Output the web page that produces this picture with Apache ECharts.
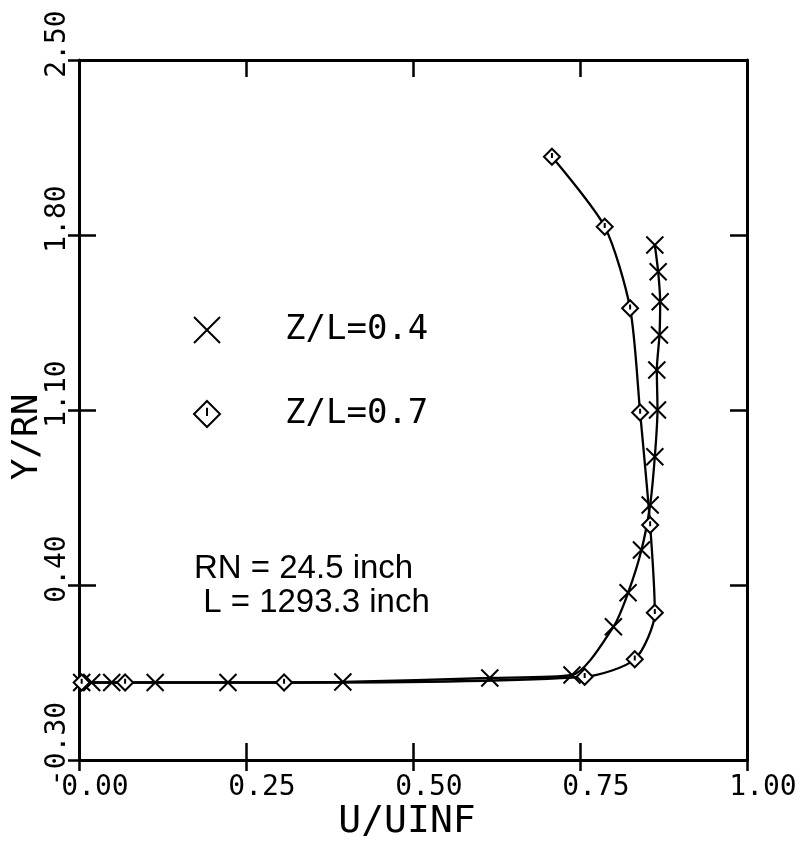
<!DOCTYPE html>
<html>
<head>
<meta charset="utf-8">
<script src="https://cdn.jsdelivr.net/npm/echarts@6/dist/echarts.min.js"></script>
<style>
html,body{margin:0;padding:0;background:#fff;}
#chart{width:805px;height:841px;}
</style>
</head>
<body>
<div id="chart"></div>
<script>
// ---- data ----
var xTicks = [0, 0.25, 0.5, 0.75, 1.0];
var yTicks = [-0.30, 0.40, 1.10, 1.80, 2.50];

var seriesNames = ['Z/L=0.4', 'Z/L=0.7'];

var z04U = [0.004, 0.019, 0.049, 0.114, 0.223, 0.395, 0.615, 0.738, 0.800, 0.822, 0.842, 0.855, 0.862, 0.866, 0.865, 0.869, 0.870, 0.867, 0.862];
var z04Y = [0.010, 0.010, 0.010, 0.010, 0.010, 0.012, 0.028, 0.040, 0.233, 0.369, 0.540, 0.720, 0.913, 1.100, 1.260, 1.400, 1.533, 1.653, 1.760];

var z07U = [0.004, 0.069, 0.307, 0.757, 0.832, 0.862, 0.855, 0.840, 0.825, 0.787, 0.708];
var z07Y = [0.010, 0.010, 0.010, 0.033, 0.103, 0.289, 0.640, 1.090, 1.507, 1.833, 2.113];

var noteLines = ['RN = 24.5 inch', ' L = 1293.3 inch'];

// ---- chart ----
function pairs(u, y) { return u.map(function (v, i) { return [v, y[i]]; }); }

var crossPath = 'path://M0,0L10,10M10,0L0,10';
var diamondPath = 'path://M5,0L10,5L5,10L0,5Z M5,2.6L5,5.8';

var MONO = "'DejaVu Sans Mono', 'Liberation Mono', monospace";
var frameW = 3;

var chart = echarts.init(document.getElementById('chart'), null, { renderer: 'canvas' });

var xBase = { type: 'value', min: xTicks[0], max: xTicks[xTicks.length - 1], interval: 0.25, splitLine: { show: false } };
var yBase = { type: 'value', min: yTicks[0], max: yTicks[yTicks.length - 1], splitLine: { show: false } };

function merge(a, b) { var o = {}; for (var k in a) o[k] = a[k]; for (var k2 in b) o[k2] = b[k2]; return o; }

var tickStyle = { color: '#000', width: 2.5 };

var option = {
  backgroundColor: '#fff',
  animation: false,
  grid: { left: 79, right: 58, top: 60, bottom: 81, containLabel: false, outerBoundsMode: 'none' },
  xAxis: [
    merge(xBase, {
      position: 'bottom',
      name: 'U/UINF', nameLocation: 'middle', nameGap: 43, nameMoveOverlap: false,
      nameTextStyle: { fontFamily: MONO, fontSize: 38, color: '#000', padding: [0, 12, 0, 0] },
      axisLine: { show: true, onZero: false, lineStyle: { color: '#000', width: frameW } },
      axisTick: { show: true, inside: true, length: 17, lineStyle: tickStyle },
      axisLabel: { show: true, margin: 14, fontFamily: MONO, fontSize: 28, color: '#000', padding: [0, 0, 0, 32],
        formatter: function (v) { return v.toFixed(2); } }
    }),
    merge(xBase, {
      position: 'bottom',
      axisLine: { show: false, onZero: false },
      axisTick: { show: true, inside: false, length: 11, lineStyle: tickStyle },
      axisLabel: { show: false }
    }),
    merge(xBase, {
      position: 'top',
      axisLine: { show: true, onZero: false, lineStyle: { color: '#000', width: frameW } },
      axisTick: { show: true, inside: true, length: 17, lineStyle: tickStyle },
      axisLabel: { show: false }
    })
  ],
  yAxis: [
    merge(yBase, {
      position: 'left',
      name: 'Y/RN', nameLocation: 'middle', nameGap: 33, nameRotate: 90, nameMoveOverlap: false,
      nameTextStyle: { fontFamily: MONO, fontSize: 36, color: '#000', padding: [0, 54, 0, 0] },
      axisLine: { show: true, onZero: false, lineStyle: { color: '#000', width: frameW } },
      axisTick: { show: true, inside: true, length: 17, customValues: yTicks, lineStyle: tickStyle },
      axisLabel: { show: true, rotate: 90, margin: 7, fontFamily: MONO, fontSize: 28, color: '#000', padding: [0, 0, 0, 32],
        customValues: yTicks, formatter: function (v) { return v.toFixed(2); } }
    }),
    merge(yBase, {
      position: 'left',
      axisLine: { show: false, onZero: false },
      axisTick: { show: true, inside: false, length: 11, customValues: yTicks, lineStyle: tickStyle },
      axisLabel: { show: false }
    }),
    merge(yBase, {
      position: 'right',
      axisLine: { show: true, onZero: false, lineStyle: { color: '#000', width: frameW } },
      axisTick: { show: true, inside: true, length: 17, customValues: yTicks, lineStyle: tickStyle },
      axisLabel: { show: false }
    })
  ],
  legend: {
    orient: 'vertical', left: 188, top: 302,
    itemWidth: 26, itemHeight: 26, itemGap: 38,
    selectedMode: false,
    textStyle: { fontFamily: MONO, fontSize: 34, color: '#000', lineHeight: 38, padding: [0, 0, 8, 60] },
    itemStyle: { color: '#fff', borderColor: '#000', borderWidth: 2 },
    data: [
      { name: seriesNames[0], icon: crossPath },
      { name: seriesNames[1], icon: diamondPath }
    ]
  },
  graphic: [
    { type: 'text', left: 194, top: 552, silent: true,
      style: { text: noteLines[0], fill: '#000', font: "33px 'Liberation Sans', Arial, sans-serif" } },
    { type: 'text', left: 194, top: 586, silent: true,
      style: { text: noteLines[1], fill: '#000', font: "33px 'Liberation Sans', Arial, sans-serif", whiteSpace: 'pre' } }
  ],
  series: [
    {
      name: seriesNames[0], type: 'line', xAxisIndex: 0, yAxisIndex: 0,
      data: pairs(z04U, z04Y), smooth: 0.25, showAllSymbol: true,
      symbol: crossPath, symbolSize: 17,
      lineStyle: { color: '#000', width: 2.3 },
      itemStyle: { color: '#fff', borderColor: '#000', borderWidth: 2 },
      emphasis: { disabled: true }, z: 3
    },
    {
      name: seriesNames[1], type: 'line', xAxisIndex: 0, yAxisIndex: 0,
      data: pairs(z07U, z07Y), smooth: 0.25, showAllSymbol: true,
      symbol: diamondPath, symbolSize: 16,
      lineStyle: { color: '#000', width: 2.3 },
      itemStyle: { color: '#fff', borderColor: '#000', borderWidth: 2 },
      emphasis: { disabled: true }, z: 3
    }
  ]
};

chart.setOption(option);
</script>
</body>
</html>
